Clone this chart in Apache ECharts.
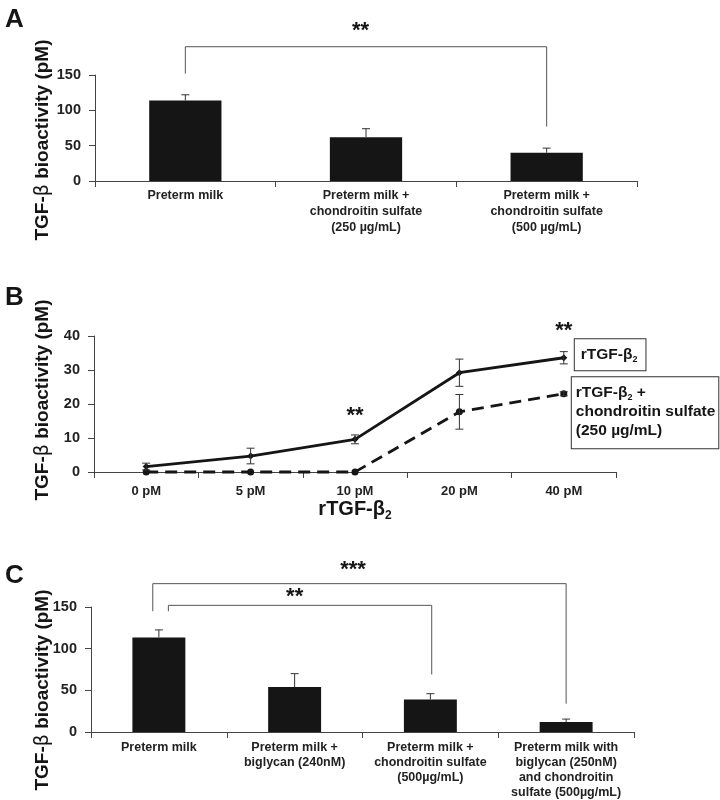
<!DOCTYPE html>
<html><head><meta charset="utf-8">
<script src="https://cdn.jsdelivr.net/npm/echarts@6/dist/echarts.min.js"></script>
<style>html,body{margin:0;padding:0;background:#fff}#c{width:720px;height:800px}</style>
</head><body><div id="c"></div>
<script>
// ---------- Panel A ----------
const catsA = ['Preterm milk', 'Preterm milk +\nchondroitin sulfate\n(250 µg/mL)', 'Preterm milk +\nchondroitin sulfate\n(500 µg/mL)'];
const valuesA = [114, 62, 40];
const errorsA = [8, 12, 6.5];
const ticksA = [0, 50, 100, 150];
// [fromCat, fromShift, toCat, toShift, topValue, leftEndValue, rightEndValue]
const bracketsA = [[0, 0, 2, 0, 190, 152, 77]];
// [cat, shift, value, text]
const starsA = [[1, -0.03, 212, '**']];

// ---------- Panel B ----------
const catsB = ['0 pM', '5 pM', '10 pM', '20 pM', '40 pM'];
const rtgf = [1.6, 4.7, 9.6, 29.2, 33.6];
const rtgfErr = [1.0, 2.3, 1.3, 4.0, 1.8];
const rtgfCS = [0, 0, 0, 17.7, 23];
const rtgfCSErr = [0, 0, 0, 5.1, 0.6];
const ticksB = [0, 10, 20, 30, 40];
const starsB = [[2, 0, 16.5, '**'], [4, 0, 41.5, '**']];

// ---------- Panel C ----------
const catsC = ['Preterm milk', 'Preterm milk +\nbiglycan (240nM)', 'Preterm milk +\nchondroitin sulfate\n(500µg/mL)', 'Preterm milk with\nbiglycan (250nM)\nand chondroitin\nsulfate (500µg/mL)'];
const valuesC = [113.5, 54, 39, 12];
const errorsC = [9, 16, 7, 3.5];
const ticksC = [0, 50, 100, 150];
const bracketsC = [[0, -0.045, 3, 0, 178, 145, 34], [0, 0.07, 2, 0.01, 152, 145, 69]];
const starsC = [[1, 0.43, 194, '***'], [1, 0, 162, '**']];

const FONT = 'Liberation Sans, Arial, Helvetica, sans-serif';
const INK = '#151515';
const AXIS = '#444';

function errRender(upOnly) {
  return function (params, api) {
    const x = api.value(0), v = api.value(1), e = api.value(2);
    if (!e) return null;
    const top = api.coord([x, v + e]);
    const bot = api.coord([x, upOnly ? v : v - e]);
    const hw = 4;
    const st = { stroke: '#333', lineWidth: 1 };
    const ch = [
      { type: 'line', shape: { x1: top[0], y1: top[1], x2: bot[0], y2: bot[1] }, style: st },
      { type: 'line', shape: { x1: top[0] - hw, y1: top[1], x2: top[0] + hw, y2: top[1] }, style: st }
    ];
    if (!upOnly) ch.push({ type: 'line', shape: { x1: bot[0] - hw, y1: bot[1], x2: bot[0] + hw, y2: bot[1] }, style: st });
    return { type: 'group', children: ch };
  };
}
function bracketRender(params, api) {
  const bw = api.size([1, 0])[0];
  const f = api.value(0), fs = api.value(1), t = api.value(2), ts = api.value(3);
  const top = api.value(4), le = api.value(5), re = api.value(6);
  const a = api.coord([f, top]), b = api.coord([t, top]);
  const a2 = api.coord([f, le]), b2 = api.coord([t, re]);
  const x1 = a[0] + fs * bw, x2 = b[0] + ts * bw;
  return {
    type: 'polyline',
    shape: { points: [[x1, a2[1]], [x1, a[1]], [x2, b[1]], [x2, b2[1]]] },
    style: { stroke: '#555', lineWidth: 1, fill: null }
  };
}
function starRender(list) {
  return function (params, api) {
    const bw = api.size([1, 0])[0];
    const p = api.coord([api.value(0), api.value(2)]);
    return {
      type: 'text',
      x: p[0] + api.value(1) * bw, y: p[1],
      style: { text: list[params.dataIndex][3], fontSize: 22, fontWeight: 'bold', fontFamily: FONT, fill: INK, align: 'center', verticalAlign: 'middle' }
    };
  };
}
function errData(vals, errs) { return vals.map((v, i) => [i, v, errs[i]]); }

function yAx(gi, ticks, fs) {
  return {
    type: 'value', gridIndex: gi, min: ticks[0], max: ticks[ticks.length - 1], interval: ticks[1] - ticks[0],
    axisLine: { show: true, lineStyle: { color: AXIS, width: 1 } },
    axisTick: { show: true, length: 6, lineStyle: { color: AXIS } },
    splitLine: { show: false },
    axisLabel: { fontSize: fs, fontWeight: 'bold', fontFamily: FONT, color: '#222', margin: 14 }
  };
}
function xAx(gi, cats, fs, lh, margin) {
  return {
    type: 'category', gridIndex: gi, data: cats,
    axisLine: { show: true, lineStyle: { color: AXIS, width: 1 } },
    axisTick: { show: true, length: 6, lineStyle: { color: AXIS } },
    axisLabel: { fontSize: fs, fontWeight: 'bold', fontFamily: FONT, color: '#222', lineHeight: lh, margin: margin, interval: 0 }
  };
}

const chart = echarts.init(document.getElementById('c'), null, { renderer: 'canvas' });
const subRich = {
  a: { fontSize: 15.5, fontWeight: 'bold', fontFamily: FONT, color: INK, lineHeight: 19 },
  s: { fontSize: 9, fontWeight: 'bold', fontFamily: FONT, color: INK, lineHeight: 9, verticalAlign: 'bottom' }
};
const ylabel = (x, y) => ({
  type: 'text', x: x, y: y, rotation: Math.PI / 2,
  style: {
    text: 'TGF-{b|β} bioactivity (pM)', fontSize: 19, fontWeight: 'bold', fontFamily: FONT, fill: INK,
    align: 'center', verticalAlign: 'middle',
    rich: { b: { fontSize: 19, fontWeight: 'normal', fontFamily: 'DejaVu Sans, sans-serif', fill: INK } }
  }
});

chart.setOption({
  animation: false,
  backgroundColor: '#fff',
  title: [
    { text: 'A', left: 0, top: 2, textStyle: { fontSize: 26, fontWeight: 'bold', fontFamily: FONT, color: INK } },
    { text: 'B', left: 0, top: 280, textStyle: { fontSize: 26, fontWeight: 'bold', fontFamily: FONT, color: INK } },
    { text: 'C', left: 0, top: 558, textStyle: { fontSize: 26, fontWeight: 'bold', fontFamily: FONT, color: INK } }
  ],
  graphic: [ylabel(43, 140), ylabel(43, 400), ylabel(43, 690)],
  grid: [
    { left: 95, top: 75, width: 542, height: 106 },
    { left: 94, top: 336, width: 522, height: 136 },
    { left: 91, top: 607, width: 543, height: 125 }
  ],
  xAxis: [
    xAx(0, catsA, 12.5, 16, 7),
    Object.assign(xAx(1, catsB, 13, 16, 11), {
      name: '{a|rTGF-β}{s|2}', nameLocation: 'middle', nameGap: 24,
      nameTextStyle: { rich: {
        a: { fontSize: 20, fontWeight: 'bold', fontFamily: FONT, color: INK, lineHeight: 24 },
        s: { fontSize: 12, fontWeight: 'bold', fontFamily: FONT, color: INK, lineHeight: 12, verticalAlign: 'bottom' }
      } }
    }),
    xAx(2, catsC, 12.5, 15, 8)
  ],
  yAxis: [yAx(0, ticksA, 14.5), yAx(1, ticksB, 14.5), yAx(2, ticksC, 14.5)],
  series: [
    { type: 'bar', xAxisIndex: 0, yAxisIndex: 0, data: valuesA, barWidth: '40%', itemStyle: { color: INK } },
    { type: 'custom', xAxisIndex: 0, yAxisIndex: 0, data: errData(valuesA, errorsA), renderItem: errRender(true), z: 5 },
    { type: 'custom', xAxisIndex: 0, yAxisIndex: 0, data: bracketsA, renderItem: bracketRender, clip: false, z: 5 },
    { type: 'custom', xAxisIndex: 0, yAxisIndex: 0, data: starsA.map(s => s.slice(0, 3)), renderItem: starRender(starsA), clip: false, z: 5 },

    { type: 'line', name: 'rTGF-β2', xAxisIndex: 1, yAxisIndex: 1, data: rtgf, clip: false,
      symbol: 'diamond', symbolSize: 7, itemStyle: { color: INK }, lineStyle: { color: INK, width: 2.8 },
      endLabel: { show: true, formatter: '{a|rTGF-β}{s|2}', distance: 11, offset: [0, -3],
        borderColor: '#333', borderWidth: 1, backgroundColor: '#fff', padding: [6, 8, 6, 6], rich: subRich }
    },
    { type: 'line', name: 'rTGF-β2 + chondroitin sulfate', xAxisIndex: 1, yAxisIndex: 1, data: rtgfCS, clip: false,
      symbol: 'circle', symbolSize: 7, itemStyle: { color: INK }, lineStyle: { color: INK, width: 2.8, type: [12, 7] },
      endLabel: { show: true, formatter: '{a|rTGF-β}{s|2}{a| +}\n{a|chondroitin sulfate}\n{a|(250 µg/mL)}', distance: 8, offset: [0, 19],
        borderColor: '#333', borderWidth: 1, backgroundColor: '#fff', padding: [6, 3, 8, 4], rich: subRich }
    },
    { type: 'custom', xAxisIndex: 1, yAxisIndex: 1, data: errData(rtgf, rtgfErr), renderItem: errRender(false), clip: false, z: 5 },
    { type: 'custom', xAxisIndex: 1, yAxisIndex: 1, data: errData(rtgfCS, rtgfCSErr), renderItem: errRender(false), clip: false, z: 5 },
    { type: 'custom', xAxisIndex: 1, yAxisIndex: 1, data: starsB.map(s => s.slice(0, 3)), renderItem: starRender(starsB), clip: false, z: 5 },

    { type: 'bar', xAxisIndex: 2, yAxisIndex: 2, data: valuesC, barWidth: '39%', itemStyle: { color: INK } },
    { type: 'custom', xAxisIndex: 2, yAxisIndex: 2, data: errData(valuesC, errorsC), renderItem: errRender(true), z: 5 },
    { type: 'custom', xAxisIndex: 2, yAxisIndex: 2, data: bracketsC, renderItem: bracketRender, clip: false, z: 5 },
    { type: 'custom', xAxisIndex: 2, yAxisIndex: 2, data: starsC.map(s => s.slice(0, 3)), renderItem: starRender(starsC), clip: false, z: 5 }
  ]
});
</script></body></html>
